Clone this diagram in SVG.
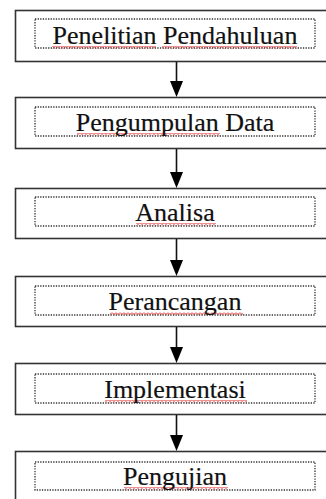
<svg xmlns="http://www.w3.org/2000/svg" width="326" height="499" viewBox="0 0 326 499">
<style>
.outer{fill:#fff;stroke:#333;stroke-width:1.6}
.inner{fill:none;stroke:#333;stroke-width:1.3;stroke-dasharray:1.3 1.3}
.lbl{font-family:"Liberation Serif","Times New Roman",serif;font-size:26px;fill:#111;stroke:#111;stroke-width:0.2;text-anchor:middle}
.sq{fill:url(#squig)}
.conn line{stroke:#111;stroke-width:1.6}
.conn polygon{fill:#000}
</style>
<defs>
<pattern id="squig" width="4" height="3" patternUnits="userSpaceOnUse">
<path d="M0 0.5 L2 2.5 L4 0.5" fill="none" stroke="#e02020" stroke-width="1"/>
</pattern>
</defs>
<rect width="326" height="499" fill="#fff"/>
<g id="n1">
<rect class="outer" x="15.5" y="10.5" width="330" height="51"/>
<rect class="inner" x="35" y="19" width="280" height="29"/>
<rect class="sq" x="52" y="46" width="104" height="3"/>
<rect class="sq" x="162" y="46" width="135" height="3"/>
<text class="lbl" x="175" y="44">Penelitian Pendahuluan</text>
</g>
<g id="n2">
<rect class="outer" x="15.5" y="97.5" width="330" height="51"/>
<rect class="inner" x="35" y="107" width="280" height="29"/>
<rect class="sq" x="77" y="133" width="143" height="3"/>
<text class="lbl" x="175" y="131">Pengumpulan Data</text>
</g>
<g id="n3">
<rect class="outer" x="15.5" y="188.5" width="330" height="50"/>
<rect class="inner" x="35" y="197" width="280" height="29"/>
<rect class="sq" x="136" y="223" width="80" height="3"/>
<text class="lbl" x="175" y="221">Analisa</text>
</g>
<g id="n4">
<rect class="outer" x="15.5" y="276.5" width="330" height="50"/>
<rect class="inner" x="35" y="286" width="280" height="29"/>
<rect class="sq" x="110" y="312" width="133" height="3"/>
<text class="lbl" x="175" y="310">Perancangan</text>
</g>
<g id="n5">
<rect class="outer" x="15.5" y="363.5" width="330" height="51"/>
<rect class="inner" x="35" y="374" width="280" height="29"/>
<rect class="sq" x="105" y="400" width="142" height="3"/>
<text class="lbl" x="175" y="398">Implementasi</text>
</g>
<g id="n6">
<rect class="outer" x="15.5" y="451.5" width="330" height="60"/>
<rect class="inner" x="35" y="462" width="280" height="28"/>
<rect class="sq" x="124" y="487" width="104" height="3"/>
<text class="lbl" x="175" y="485">Pengujian</text>
</g>
<g id="connectors" class="conn">
<line x1="176.5" y1="62" x2="176.5" y2="82"/>
<polygon points="170,81 183,81 176.5,97"/>
<line x1="176.5" y1="149" x2="176.5" y2="173"/>
<polygon points="170,172 183,172 176.5,188"/>
<line x1="176.5" y1="239" x2="176.5" y2="261"/>
<polygon points="170,260 183,260 176.5,276"/>
<line x1="176.5" y1="327" x2="176.5" y2="348"/>
<polygon points="170,347 183,347 176.5,363"/>
<line x1="176.5" y1="415" x2="176.5" y2="436"/>
<polygon points="170,435 183,435 176.5,451"/>
</g>
</svg>
